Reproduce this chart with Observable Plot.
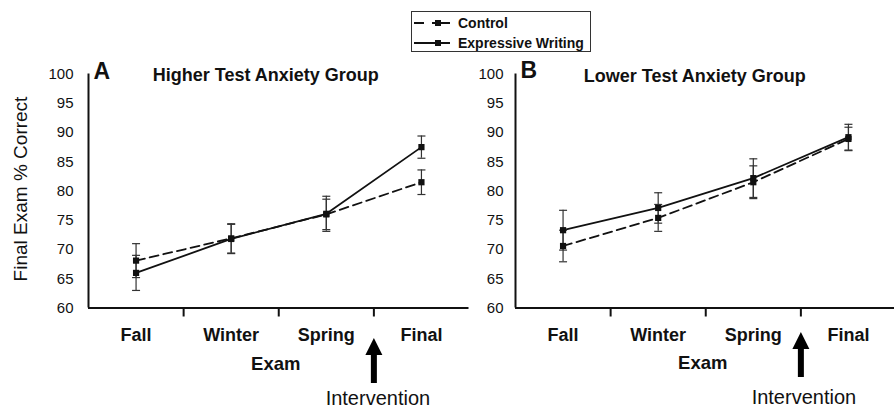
<!DOCTYPE html>
<html>
<head>
<meta charset="utf-8">
<script src="https://cdn.jsdelivr.net/npm/d3@7"></script>
<script src="https://cdn.jsdelivr.net/npm/@observablehq/plot@0.6"></script>
<style>
  html, body { margin: 0; padding: 0; background: #fff; overflow: hidden; }
  #wrap { position: relative; width: 894px; height: 409px; overflow: hidden; font-family: "Liberation Sans", Arial, sans-serif; }
  #wrap svg { position: absolute; top: 0; }
  #legend { position: absolute; left: 411px; top: 11px; width: 180px; height: 41px; border: 1px solid #333; box-sizing: border-box; background: #fff; }
  #legend .row { position: absolute; left: 0; height: 20px; display: flex; align-items: center; font-weight: bold; font-size: 14px; color: #111; }
  #legend svg { position: static; }
</style>
</head>
<body>
<div id="wrap">
  <div id="legend"></div>
</div>
<script>
// ---- data ----
const categories = ["Fall", "Winter", "Spring", "Final"];
const series = ["Control", "Expressive Writing"];

const higherControl    = [68.1, 71.9, 76.0, 81.5];
const higherControlErr = [2.9, 2.5, 2.6, 2.1];
const higherWriting    = [66.0, 71.8, 76.1, 87.5];
const higherWritingErr = [3.0, 2.5, 3.0, 1.9];

const lowerControl     = [70.6, 75.4, 81.5, 88.9];
const lowerControlErr  = [2.7, 2.3, 2.8, 2.0];
const lowerWriting     = [73.3, 77.1, 82.2, 89.2];
const lowerWritingErr  = [3.4, 2.6, 3.3, 2.2];

const yTicks = [60, 65, 70, 75, 80, 85, 90, 95, 100];
const interventionAfter = "Spring";

// ---- helpers ----
function rows(values, errs, name) {
  return categories.map((c, i) => ({
    exam: c, pos: i + 0.5, value: values[i], lo: values[i] - errs[i], hi: values[i] + errs[i], series: name
  }));
}

const capSymbol = {
  draw(ctx, size) { const w = Math.sqrt(size / Math.PI); ctx.moveTo(-w, 0); ctx.lineTo(w, 0); }
};
const arrowSymbol = {
  draw(ctx, size) {
    const s = Math.sqrt(size / Math.PI);
    const hb = -s + 17;
    ctx.moveTo(0, -s);
    ctx.lineTo(8.5, hb); ctx.lineTo(3, hb); ctx.lineTo(3, s);
    ctx.lineTo(-3, s); ctx.lineTo(-3, hb); ctx.lineTo(-8.5, hb);
    ctx.closePath();
  }
};

function panel(o) {
  const ctrl = rows(o.ctrl, o.ctrlErr, series[0]);
  const ew = rows(o.ew, o.ewErr, series[1]);
  const all = ctrl.concat(ew);
  const intervention = [{at: categories.indexOf(interventionAfter) + 1}];
  const bounds = d3.range(1, categories.length);
  const fontFamily = '"Liberation Sans", Arial, sans-serif';

  const marks = [
    // axes lines
    Plot.ruleY([60], {stroke: "#111", strokeWidth: 2}),
    Plot.ruleX([0], {stroke: "#111", strokeWidth: 2}),
    Plot.axisY({ticks: yTicks, tickSize: 0, tickPadding: o.yPad, fontSize: 15, fill: "#111", label: null}),
    Plot.axisX({ticks: bounds, tickSize: 9, tickFormat: () => "", stroke: "#111", strokeWidth: 2, label: null}),
    Plot.axisX({ticks: categories.map((c, i) => i + 0.5), tickFormat: (d) => categories[Math.floor(d)],
                tickSize: 0, tickPadding: 20, fontSize: 18, fontWeight: "bold", fill: "#111", label: null}),
    // series lines
    Plot.line(ctrl, {x: "pos", y: "value", stroke: "#111", strokeWidth: 1.8, strokeDasharray: "9,5"}),
    Plot.line(ew, {x: "pos", y: "value", stroke: "#111", strokeWidth: 1.8}),
    // error bars
    Plot.ruleX(all, {x: "pos", y1: "lo", y2: "hi", stroke: "#333", strokeWidth: 1.2}),
    Plot.dot(all, {x: "pos", y: "lo", symbol: capSymbol, r: 4, fill: "none", stroke: "#333", strokeWidth: 1.2}),
    Plot.dot(all, {x: "pos", y: "hi", symbol: capSymbol, r: 4, fill: "none", stroke: "#333", strokeWidth: 1.2}),
    // markers
    Plot.dot(all, {x: "pos", y: "value", symbol: "square", r: 3.5, fill: "#111", stroke: "none"}),
    // panel letter and title
    Plot.text([o.letter], {frameAnchor: "top-left", textAnchor: "start", lineAnchor: "middle", dx: 5, dy: o.letterDy,
                           fontSize: 23, fontWeight: "bold", fill: "#111"}),
    Plot.text([o.title], {frameAnchor: "top", lineAnchor: "middle", dx: o.titleDx, dy: o.titleDy,
                          fontSize: 18, fontWeight: "bold", fill: "#111"}),
    // x label
    Plot.text(["Exam"], {frameAnchor: "bottom", lineAnchor: "middle", dx: -3, dy: o.examDy,
                         fontSize: 18.5, fontWeight: "bold", fill: "#111"}),
    // intervention arrow + label
    Plot.dot(intervention, {x: "at", frameAnchor: "bottom", dy: o.arrowDy, symbol: arrowSymbol, r: 22.5, fill: "#000", stroke: "none"}),
    Plot.text(intervention, {x: "at", text: () => "Intervention", frameAnchor: "bottom", lineAnchor: "middle",
                             dx: o.interDx, dy: o.interDy, fontSize: 20, fill: "#111"})
  ];
  if (o.yLabel) {
    marks.push(Plot.text([o.yLabel], {frameAnchor: "left", textAnchor: "middle", rotate: -90, lineAnchor: "middle",
                                      dx: -68, dy: -2, fontSize: 19, fill: "#111"}));
  }

  const svg = Plot.plot({
    width: o.width,
    height: 409,
    marginLeft: 88,
    marginRight: o.width - 88 - 380.5,
    marginTop: 73.5,
    marginBottom: 101.5,
    style: {background: "transparent", overflow: "visible", fontFamily, left: o.left + "px", position: "absolute", maxWidth: "none"},
    x: {type: "linear", domain: [0, categories.length], axis: null},
    y: {domain: [60, 100], axis: null},
    marks
  });
  return svg;
}

const wrap = document.getElementById("wrap");
const legend = document.getElementById("legend");

wrap.insertBefore(panel({
  ctrl: higherControl, ctrlErr: higherControlErr, ew: higherWriting, ewErr: higherWritingErr,
  letter: "A", title: "Higher Test Anxiety Group", titleDx: -13, titleDy: 1, letterDy: -2.5,
  yPad: 15, examDy: 56.5, arrowDy: 52.5, interDx: 4, interDy: 91, yLabel: "Final Exam % Correct",
  left: 0, width: 470
}), legend);

wrap.insertBefore(panel({
  ctrl: lowerControl, ctrlErr: lowerControlErr, ew: lowerWriting, ewErr: lowerWritingErr,
  letter: "B", title: "Lower Test Anxiety Group", titleDx: -11, titleDy: 2, letterDy: -3,
  yPad: 12, examDy: 55.5, arrowDy: 46.5, interDx: 3, interDy: 90, yLabel: null,
  left: 427, width: 469
}), legend);

// legend
series.forEach((name, i) => {
  const row = document.createElement("div");
  row.className = "row";
  row.style.top = (i === 0 ? 1 : 21) + "px";
  const s = d3.create("svg").attr("width", 46).attr("height", 20);
  s.append("line").attr("x1", 2).attr("x2", 38).attr("y1", 10).attr("y2", 10)
    .attr("stroke", "#111").attr("stroke-width", 1.8)
    .attr("stroke-dasharray", i === 0 ? "10,8,18" : null);
  s.append("rect").attr("x", 23).attr("y", 7).attr("width", 6).attr("height", 6).attr("fill", "#111");
  row.appendChild(s.node());
  const t = document.createElement("span");
  t.textContent = name;
  row.appendChild(t);
  legend.appendChild(row);
});
</script>
</body>
</html>
